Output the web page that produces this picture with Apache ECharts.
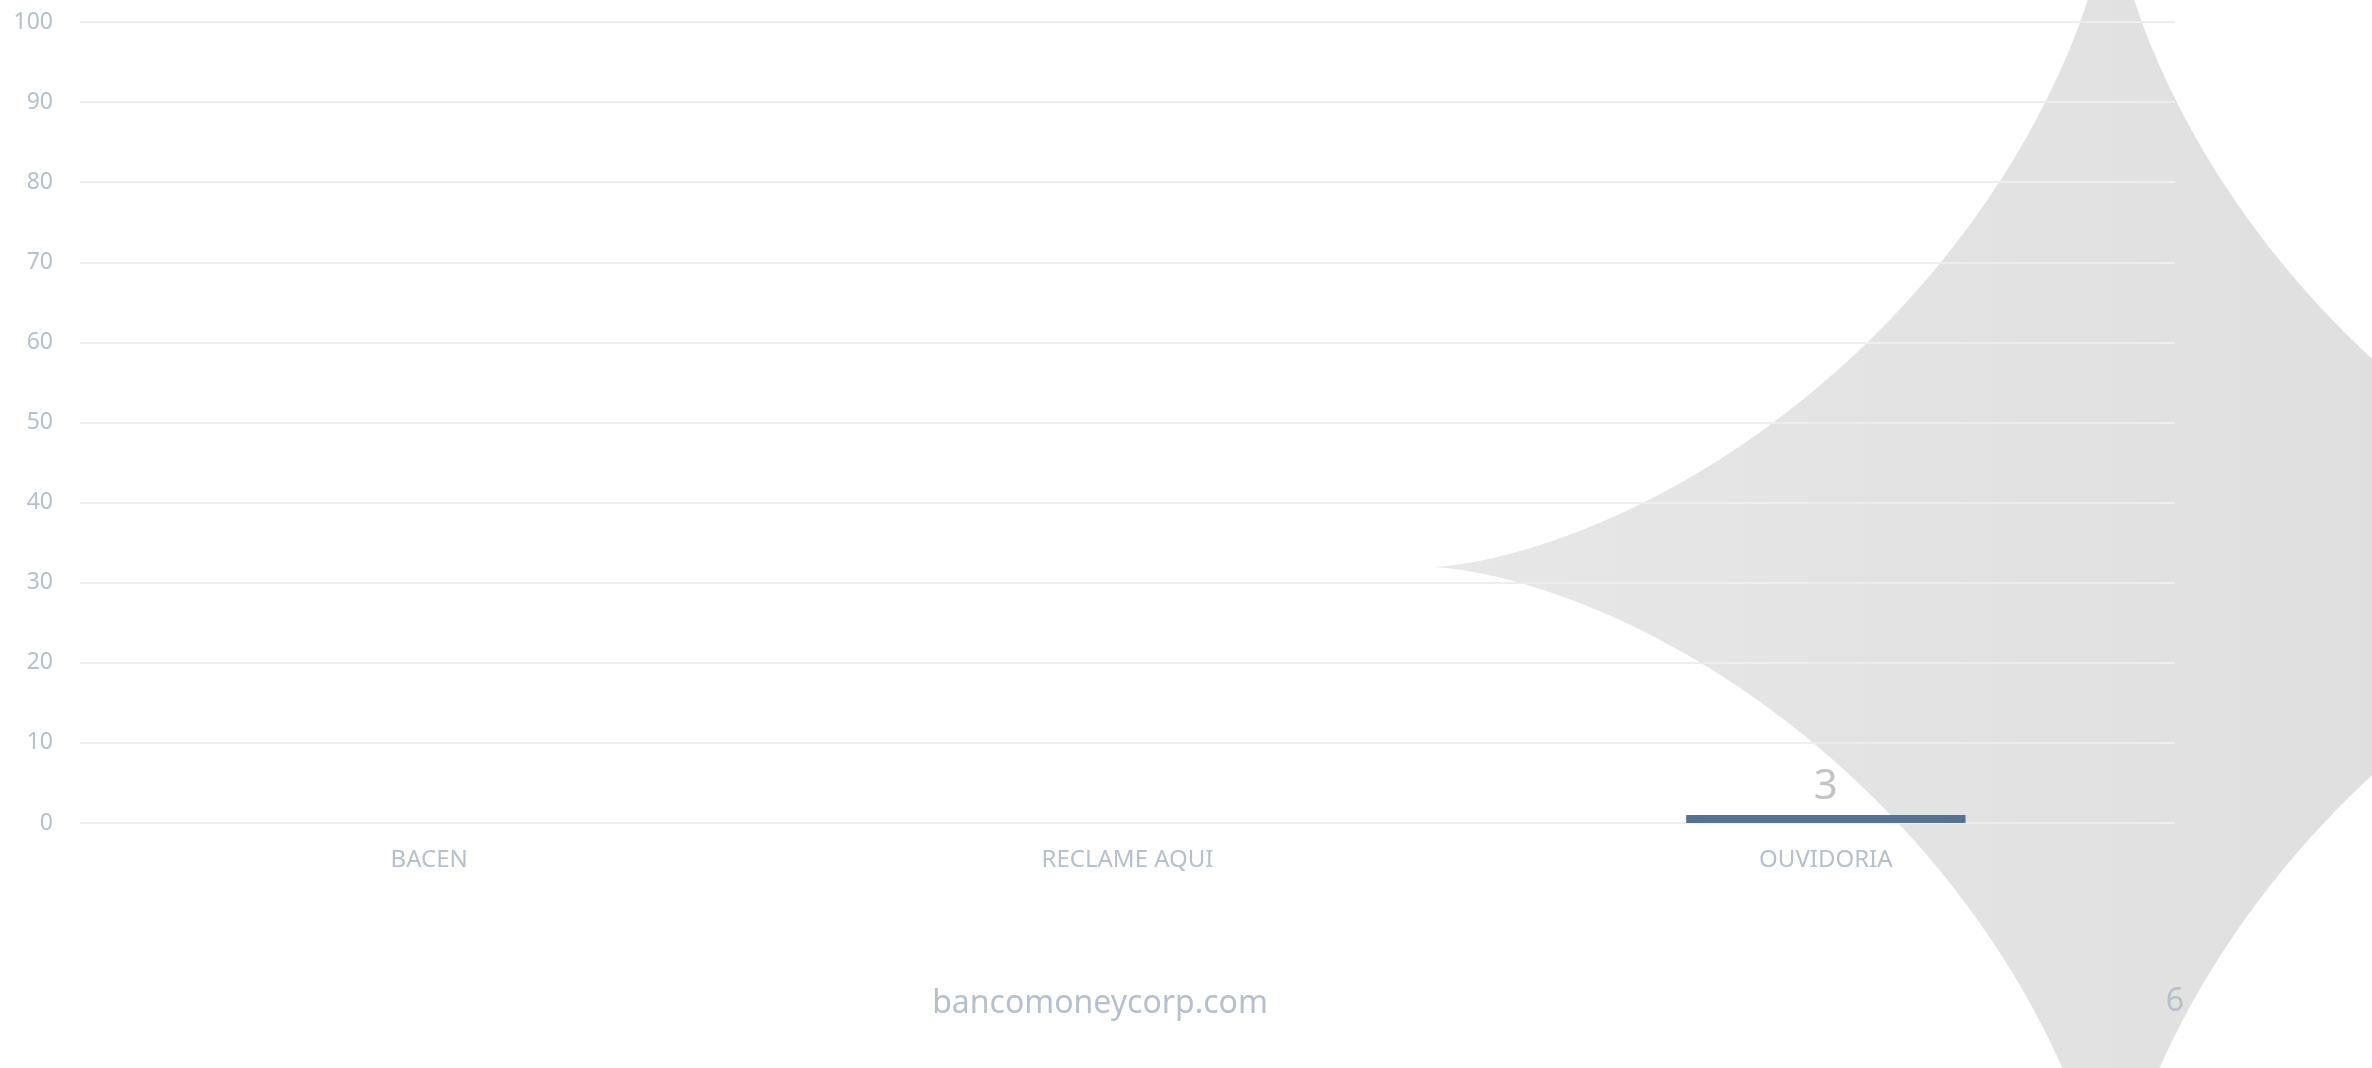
<!DOCTYPE html>
<html>
<head>
<meta charset="utf-8">
<script src="https://cdn.jsdelivr.net/npm/echarts@6/dist/echarts.min.js"></script>
<style>
html,body{margin:0;padding:0;background:#fff;}
#chart{width:2372px;height:1068px;}
</style>
</head>
<body>
<div id="chart"></div>
<script>
const categories = ['BACEN', 'RECLAME AQUI', 'OUVIDORIA'];
const barValues = [0, 0, 1];
const labelValues = [0, 0, 3];
const yTicks = [0, 10, 20, 30, 40, 50, 60, 70, 80, 90, 100];
const footerText = 'bancomoneycorp.com';
const pageNumber = '6';

// decorative four-pointed star (background ornament)
function starPoints(cx, cy, r, p, n) {
  const pts = [];
  for (let i = 0; i < n; i++) {
    const t = (i / n) * Math.PI * 2;
    const c = Math.cos(t), s = Math.sin(t);
    const x = Math.sign(c) * Math.pow(Math.abs(c), 2 / p);
    const y = Math.sign(s) * Math.pow(Math.abs(s), 2 / p);
    pts.push([cx + r * x, cy + r * y]);
  }
  return pts;
}

const chart = echarts.init(document.getElementById('chart'));
const font = 'Noto Sans';
chart.setOption({
  animation: false,
  backgroundColor: '#ffffff',
  grid: { left: 80, right: 197, top: 22, bottom: 245, containLabel: false },
  xAxis: {
    type: 'category',
    data: categories,
    axisLine: { show: false },
    axisTick: { show: false },
    axisLabel: { color: '#b5c0cc', fontSize: 24, fontFamily: font, margin: 25 }
  },
  yAxis: {
    type: 'value',
    min: yTicks[0],
    max: yTicks[yTicks.length - 1],
    interval: yTicks[1] - yTicks[0],
    axisLine: { show: false },
    axisTick: { show: false },
    axisLabel: { color: '#b5c0cc', fontSize: 23, fontFamily: font, margin: 27 },
    splitLine: { lineStyle: { color: '#eceef2', width: 2 } }
  },
  series: [{
    type: 'bar',
    data: barValues,
    barWidth: '40%',
    itemStyle: { color: '#55738f' },
    label: {
      show: true,
      position: 'top',
      distance: 7,
      color: '#c4c4c4',
      fontSize: 42,
      fontFamily: font,
      formatter: p => labelValues[p.dataIndex] ? String(labelValues[p.dataIndex]) : ''
    }
  }],
  graphic: [
    {
      type: 'polygon',
      z: -10,
      silent: true,
      shape: { points: starPoints(2111, 567, 680, 0.65, 1440) },
      style: {
        fill: new echarts.graphic.LinearGradient(0, 0, 1, 0, [
          { offset: 0, color: '#e7e7e7' },
          { offset: 1, color: '#dcdcdc' }
        ])
      }
    },
    {
      type: 'text',
      z: 10,
      x: 1100, y: 1004,
      style: { text: footerText, fill: '#b5c0cc', fontSize: 32, fontFamily: font, textAlign: 'center', textVerticalAlign: 'middle' }
    },
    {
      type: 'text',
      z: 10,
      x: 2175, y: 1002,
      style: { text: pageNumber, fill: '#b5c0cc', fontSize: 32, fontFamily: font, textAlign: 'center', textVerticalAlign: 'middle' }
    }
  ]
});
</script>
</body>
</html>
